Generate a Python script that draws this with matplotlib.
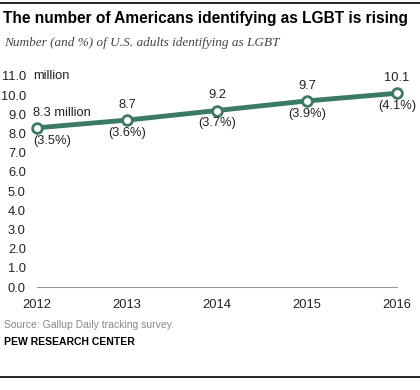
import matplotlib
matplotlib.use('Agg')
import matplotlib.pyplot as plt
from matplotlib.lines import Line2D

years = [2012, 2013, 2014, 2015, 2016]
millions = [8.3, 8.7, 9.2, 9.7, 10.1]
value_labels = ['8.3 million', '8.7', '9.2', '9.7', '10.1']
pct_labels = ['(3.5%)', '(3.6%)', '(3.7%)', '(3.9%)', '(4.1%)']
yticks = [0, 1, 2, 3, 4, 5, 6, 7, 8, 9, 10, 11]

green = '#3b7a63'
plt.rcParams['font.family'] = ['Liberation Sans', 'DejaVu Sans']

fig = plt.figure(figsize=(4.2, 3.9), dpi=100)
ax = fig.add_axes([37 / 420, (390 - 287) / 390, 360 / 420, 211 / 390])

ax.plot(years, millions, color=green, lw=3.5, marker='o', ms=7,
        mfc='white', mec=green, mew=2, zorder=3, clip_on=False)
ax.set_xlim(2012, 2016)
ax.set_ylim(0, 11)
ax.set_yticks(yticks)
ax.set_yticklabels([f'{v:.1f}' for v in yticks])
ax.set_xticks(years)
ax.set_xticklabels([str(y) for y in years])
lab = 9.3
ax.tick_params(length=0, labelsize=lab, colors='#222222')
ax.tick_params(axis='y', pad=8)
ax.tick_params(axis='x', pad=9)
for s in ['top', 'right', 'left']:
    ax.spines[s].set_visible(False)
ax.spines['bottom'].set_color('#999999')
ax.spines['bottom'].set_linewidth(0.8)
ax.text(-0.012, 11, 'million', fontsize=lab, color='#222222', va='center', ha='left',
        transform=ax.get_yaxis_transform())

for i, (x, v) in enumerate(zip(years, millions)):
    ha = 'left' if i == 0 else 'center'
    xo = -3 if i == 0 else 0
    ax.annotate(value_labels[i], (x, v), xytext=(xo, 6.5), textcoords='offset points',
                ha=ha, va='bottom', fontsize=lab, color='#222222')
    ax.annotate(pct_labels[i], (x, v), xytext=(xo, -5), textcoords='offset points',
                ha=ha, va='top', fontsize=lab, color='#222222')

fig.add_artist(Line2D([0, 1], [1 - 3 / 390, 1 - 3 / 390], color='black', lw=1.2))
fig.add_artist(Line2D([0, 1], [1 - 377 / 390, 1 - 377 / 390], color='black', lw=1.2))
fig.text(3 / 420, 1 - 19 / 390, 'The number of Americans identifying as LGBT is rising',
         fontsize=11.2, fontweight='bold', va='center', ha='left', color='black')
fig.text(4 / 420, 1 - 43 / 390, 'Number (and %) of U.S. adults identifying as LGBT',
         fontsize=9.5, style='italic', va='center', ha='left', color='#444444',
         family=['Liberation Serif', 'DejaVu Serif'])
fig.text(4 / 420, 1 - 325 / 390, 'Source: Gallup Daily tracking survey.',
         fontsize=7.5, va='center', ha='left', color='#888888')
fig.text(4 / 420, 1 - 342 / 390, 'PEW RESEARCH CENTER',
         fontsize=7.5, fontweight='bold', va='center', ha='left', color='black')

fig.savefig('out.png', dpi=100)
